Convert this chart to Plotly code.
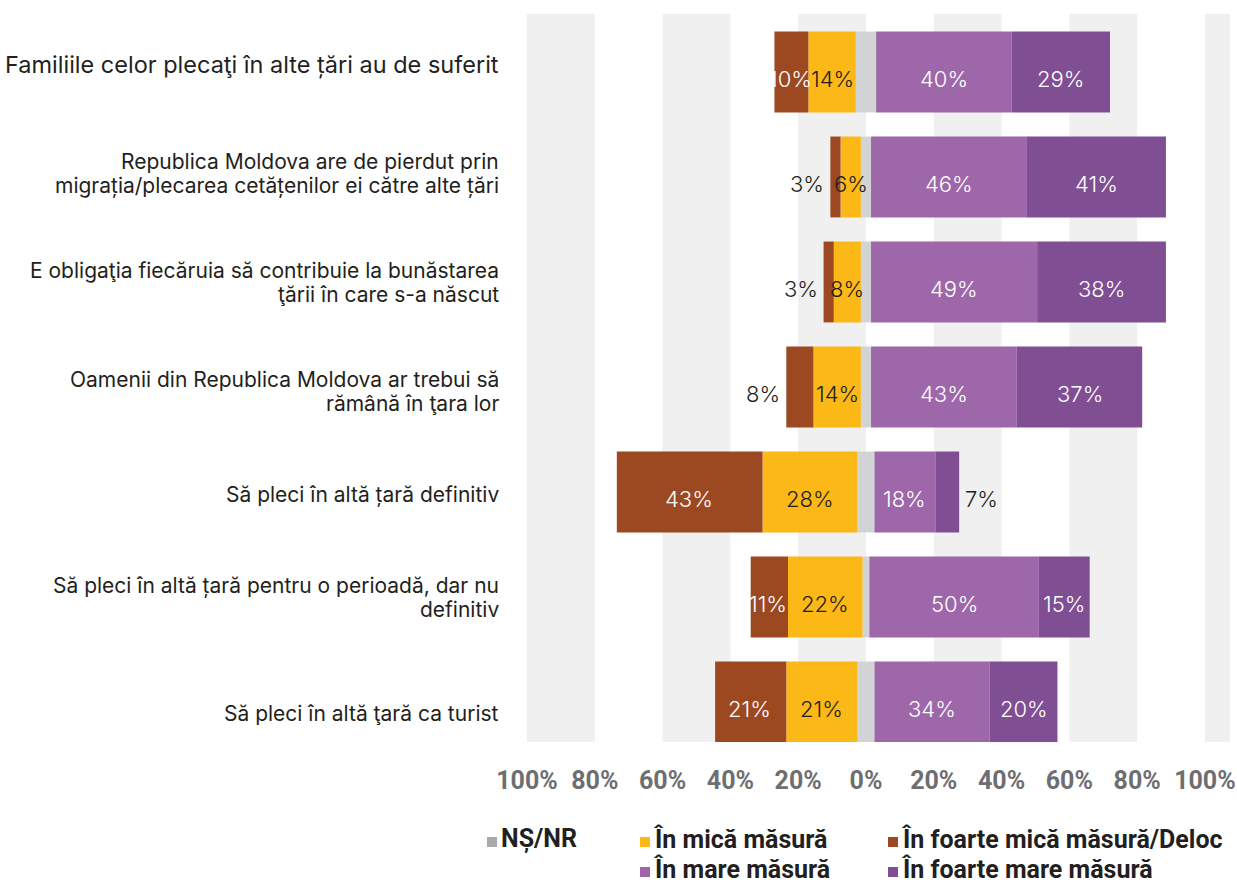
import plotly.graph_objects as go

# Survey statements (top to bottom)
categories = [
    "Familiile celor plecaţi în alte țări au de suferit",
    "Republica Moldova are de pierdut prin<br>migrația/plecarea cetățenilor ei către alte țări",
    "E obligaţia fiecăruia să contribuie la bunăstarea<br>ţării în care s-a născut",
    "Oamenii din Republica Moldova ar trebui să<br>rămână în ţara lor",
    "Să pleci în altă țară definitiv",
    "Să pleci în altă țară pentru o perioadă, dar nu<br>definitiv",
    "Să pleci în altă ţară ca turist",
]

# Shares of answers, %
foarte_mica = [10, 3, 3, 8, 43, 11, 21]   # În foarte mică măsură/Deloc
mica = [14, 6, 8, 14, 28, 22, 21]         # În mică măsură
ns_nr = [6, 3, 3, 3, 5, 2, 5]             # NȘ/NR
mare = [40, 46, 49, 43, 18, 50, 34]       # În mare măsură
foarte_mare = [29, 41, 38, 37, 7, 15, 20] # În foarte mare măsură

tick_vals = [-100, -80, -60, -40, -20, 0, 20, 40, 60, 80, 100]
tick_text = ["100%", "80%", "60%", "40%", "20%", "0%", "20%", "40%", "60%", "80%", "100%"]

series_names = ["NȘ/NR", "În mică măsură", "În foarte mică măsură/Deloc",
                "În mare măsură", "În foarte mare măsură"]

C_NS = "#d1d3d4"
C_MICA = "#fbb817"
C_FMICA = "#9c4922"
C_MARE = "#9e67a9"
C_FMARE = "#7f4e93"
C_TEXT = "#231f20"

W, H = 1237, 885
L, R, T, B = 527, 1230, 14, 742
X_MIN, X_MAX = -100, 107.4
Y_RANGE = [6.381, -0.552]
BAR_W = 0.77


def px_x(px):
    return (px - L) / (R - L)


def px_y(py):
    return (B - py) / (B - T)


half_ns = [v / 2 for v in ns_nr]
fig = go.Figure()

# relative stacking: negatives grow leftwards, positives rightwards, in trace order
fig.add_trace(go.Bar(y=categories, x=[-v for v in half_ns], orientation="h",
                     marker_color=C_NS, width=BAR_W, hoverinfo="skip"))
fig.add_trace(go.Bar(y=categories, x=half_ns, orientation="h",
                     marker_color=C_NS, width=BAR_W, hoverinfo="skip"))
fig.add_trace(go.Bar(y=categories, x=[-v for v in mica], orientation="h",
                     marker_color=C_MICA, width=BAR_W, name=series_names[1]))
fig.add_trace(go.Bar(y=categories, x=mare, orientation="h",
                     marker_color=C_MARE, width=BAR_W, name=series_names[3]))
fig.add_trace(go.Bar(y=categories, x=[-v for v in foarte_mica], orientation="h",
                     marker_color=C_FMICA, width=BAR_W, name=series_names[2]))
fig.add_trace(go.Bar(y=categories, x=foarte_mare, orientation="h",
                     marker_color=C_FMARE, width=BAR_W, name=series_names[4]))

for tr in fig.data:
    tr.marker.line.width = 0

annotations = []
shapes = []

# alternating background bands every other 20% step
band_edges = tick_vals + [X_MAX]
for i in range(0, len(band_edges) - 1, 2):
    shapes.append(dict(type="rect", xref="x", yref="paper",
                       x0=band_edges[i], x1=band_edges[i + 1], y0=0, y1=1,
                       fillcolor="#f0f0f0", line_width=0, layer="below"))

LABEL_FONT = dict(family="Inter, Lato, sans-serif", size=22, weight=300)
LABEL_YSHIFT = -7


def seg_label(x, cat, val, color, anchor="center", xshift=0):
    annotations.append(dict(
        x=x, y=cat, xref="x", yref="y", text=f"{val}%", showarrow=False,
        xanchor=anchor, yanchor="middle", xshift=xshift, yshift=LABEL_YSHIFT,
        font=dict(color=color, **LABEL_FONT)))


for i, cat in enumerate(categories):
    h = half_ns[i]
    # negative side
    m0, m1 = -h, -h - mica[i]
    f1 = m1 - foarte_mica[i]
    seg_label((m0 + m1) / 2, cat, mica[i], C_TEXT)
    if foarte_mica[i] < 9:
        seg_label(f1, cat, foarte_mica[i], C_TEXT, anchor="right", xshift=-4)
    else:
        seg_label((m1 + f1) / 2, cat, foarte_mica[i], "white", xshift=-1)
    # positive side
    p0, p1 = h, h + mare[i]
    p2 = p1 + foarte_mare[i]
    seg_label((p0 + p1) / 2, cat, mare[i], "white")
    if foarte_mare[i] < 9:
        seg_label(p2, cat, foarte_mare[i], C_TEXT, anchor="left", xshift=4)
    else:
        seg_label((p1 + p2) / 2, cat, foarte_mare[i], "white")

# statement labels to the left of the plot
LINE_GAP = 24
label_sizes = [23.5, 21, 21, 21, 21, 21, 21]
label_shift = [7, 3, -1, -5, -3, -1, -12]
for cat, fs, sh in zip(categories, label_sizes, label_shift):
    lines = cat.split("<br>")
    n = len(lines)
    for k, line in enumerate(lines):
        annotations.append(dict(
            x=px_x(501), y=cat, xref="paper", yref="y", text=line,
            showarrow=False, xanchor="right", yanchor="middle",
            yshift=((n - 1) / 2 - k) * LINE_GAP + sh,
            font=dict(family="Inter, Lato, sans-serif", size=fs, color=C_TEXT)))

# legend built from squares and text
legend_colors = ["#a7a9ac", C_MICA, C_FMICA, C_MARE, C_FMARE]
legend_pos = [(487, 839), (640, 839), (888, 839), (640, 869), (888, 869)]
SQ = 10
for name, col, (lx, ly) in zip(series_names, legend_colors, legend_pos):
    shapes.append(dict(type="rect", xref="paper", yref="paper",
                       x0=px_x(lx), x1=px_x(lx + SQ),
                       y0=px_y(ly + 8), y1=px_y(ly + 8 - SQ),
                       fillcolor=col, line_width=0))
    annotations.append(dict(
        x=px_x(lx + SQ + 2), y=px_y(ly), xref="paper", yref="paper",
        text=name, showarrow=False, xanchor="left", yanchor="middle",
        font=dict(family="Roboto, sans-serif", size=25, weight=700, color=C_TEXT)))

fig.update_layout(
    width=W, height=H,
    margin=dict(l=L, r=W - R, t=T, b=H - B, pad=0),
    barmode="relative",
    bargap=0.23,
    showlegend=False,
    plot_bgcolor="white",
    paper_bgcolor="white",
    xaxis=dict(range=[X_MIN, X_MAX], tickvals=tick_vals, ticktext=tick_text,
               automargin=False,
               showgrid=False, zeroline=False, showline=False, ticks="",
               ticklabelstandoff=21,
               tickfont=dict(family="Roboto, sans-serif", size=25, weight=700,
                             color="#6d6e71")),
    yaxis=dict(range=Y_RANGE, showticklabels=False, showgrid=False,
               automargin=False,
               zeroline=False, showline=False, ticks=""),
    shapes=shapes,
    annotations=annotations,
)

fig.write_html("out.html")
